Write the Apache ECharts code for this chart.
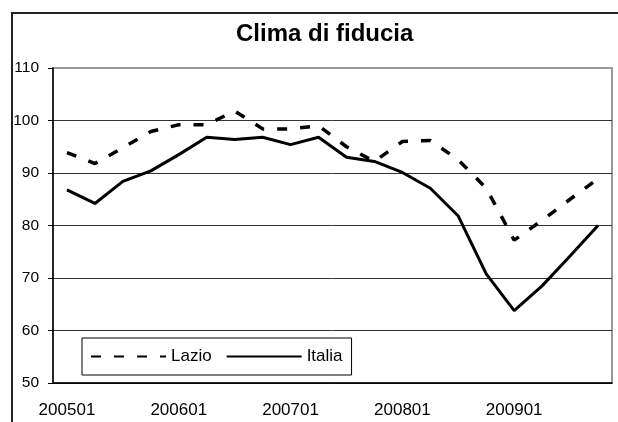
<html>
<head>
<meta charset="utf-8">
<title>Clima di fiducia</title>
<script src="https://cdn.jsdelivr.net/npm/echarts@6.0.0/dist/echarts.min.js"></script>
<style>
	body { margin: 0; background: #fff; }
</style>
</head>
<body>
	<div id="main" style="width: 618px; height: 422px;"></div>
	<script type="text/javascript">
		// dati trimestrali 2005-2009
		var periodi = ['200501', '200504', '200507', '200510',
		               '200601', '200604', '200607', '200610',
		               '200701', '200704', '200707', '200710',
		               '200801', '200804', '200807', '200810',
		               '200901', '200904', '200907', '200910'];
		var lazio = [93.9, 91.8, 94.8, 97.9, 99.2, 99.2, 101.8, 98.4, 98.4, 99.0,
		             95.0, 92.2, 96.0, 96.2, 92.5, 87.1, 77.2, 81.0, 85.0, 88.9];
		var italia = [86.8, 84.2, 88.4, 90.4, 93.5, 96.8, 96.4, 96.8, 95.4, 96.8,
		              93.0, 92.2, 90.1, 87.1, 81.8, 70.8, 63.8, 68.5, 74.2, 80.0];

		var font = 'Liberation Sans, Arial, sans-serif';
		var myChart = echarts.init(document.getElementById('main'));

		myChart.setOption({
			animation : false,
			backgroundColor : '#fff',
			textStyle : { fontFamily : font },
			title : {
				text : 'Clima di fiducia',
				left : 236,
				top : 22,
				padding : 0,
				textStyle : { fontFamily : font, fontSize : 24, fontWeight : 'bold', color : '#000' }
			},
			graphic : [ {
				type : 'rect',
				shape : { x : 12, y : 13, width : 700, height : 500 },
				style : { fill : null, stroke : '#222', lineWidth : 2 },
				z : 100
			} ],
			legend : {
				left : 82,
				top : 338,
				padding : [ 10, 9, 10, 8 ],
				itemGap : 14,
				itemWidth : 75,
				itemHeight : 10,
				borderColor : '#000',
				borderWidth : 1,
				backgroundColor : '#fff',
				itemStyle : { opacity : 0 },
				textStyle : { fontFamily : font, fontSize : 17, color : '#000' },
				data : [ 'Lazio', 'Italia' ]
			},
			grid : {
				left : 53,
				right : 6,
				top : 68,
				bottom : 39,
				show : true,
				borderColor : '#999',
				borderWidth : 2
			},
			xAxis : {
				type : 'category',
				data : periodi,
				boundaryGap : true,
				axisLine : { lineStyle : { color : '#000', width : 1.5 } },
				axisTick : { interval : 0, length : 5, lineStyle : { color : '#000' } },
				axisLabel : { interval : 3, fontSize : 17, color : '#000', margin : 19, fontFamily : font },
				splitLine : { show : false }
			},
			yAxis : {
				type : 'value',
				min : 50,
				max : 110,
				interval : 10,
				axisLine : { show : true, lineStyle : { color : '#000', width : 1.5 } },
				axisTick : { show : true, length : 5, lineStyle : { color : '#000' } },
				axisLabel : { fontSize : 15.5, color : '#000', margin : 14, fontFamily : font },
				splitLine : { show : true, showMaxLine : false, lineStyle : { color : '#333', width : 1 } }
			},
			series : [ {
				name : 'Lazio',
				type : 'line',
				data : lazio,
				symbol : 'none',
				z : 3,
				itemStyle : { color : '#000' },
				lineStyle : { color : '#000', width : 3.5, type : [ 10, 13 ], cap : 'butt' }
			}, {
				name : 'Italia',
				type : 'line',
				data : italia,
				symbol : 'none',
				z : 2,
				itemStyle : { color : '#000' },
				lineStyle : { color : '#000', width : 3, type : 'solid' }
			} ]
		});
	</script>
</body>
</html>
